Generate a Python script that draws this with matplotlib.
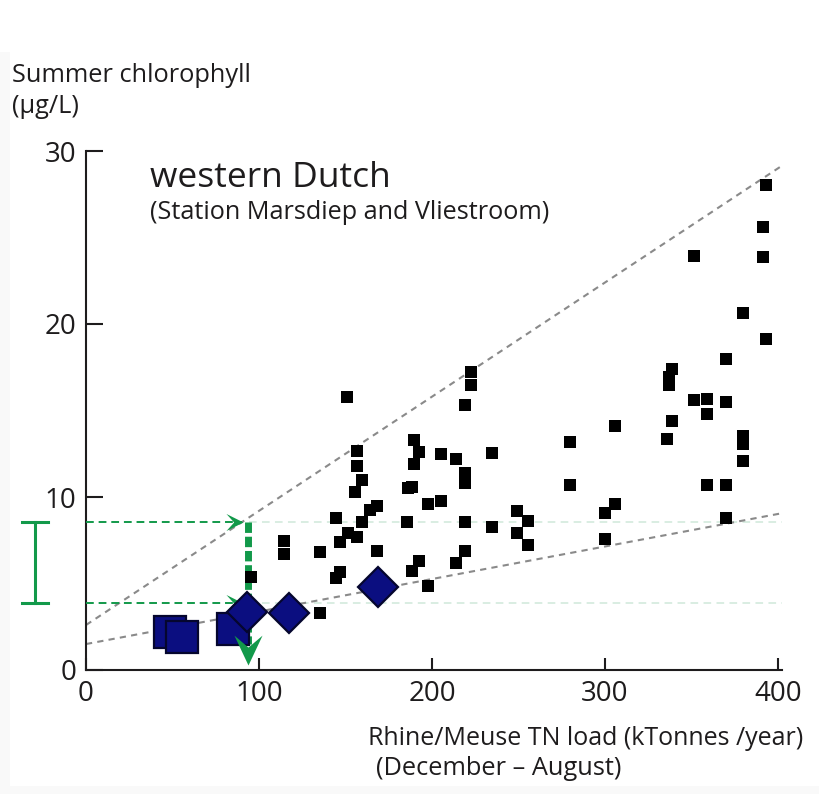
import numpy as np
import matplotlib
matplotlib.use('Agg')
from matplotlib import pyplot as plt
from matplotlib.path import Path
from matplotlib.patches import Rectangle

plt.rcParams['font.family'] = ['Open Sans', 'DejaVu Sans']

#---DATA---#
# Rhine/Meuse TN load (kTonnes/year) vs summer chlorophyll (ug/L), yearly points
tn_load = [95.6, 114.5, 114.5, 135.3, 135.3, 144.7, 146.8, 151.6, 156.5, 159.4,
           164.0, 168.3, 155.5, 159.4, 156.5, 156.5, 150.7, 168.4, 146.8, 144.5,
           185.4, 186.3, 188.2, 189.4, 192.5, 189.4, 205.4, 213.9, 219.0, 219.0,
           222.4, 222.4, 219.0, 234.9, 197.4, 205.4, 219.0, 234.9, 219.0, 213.9,
           192.7, 188.2, 197.4, 248.9, 248.9, 255.7, 255.7, 279.8, 279.8, 300.0,
           300.0, 306.0, 306.0, 335.6, 338.5, 337.2, 337.2, 338.5, 351.5, 359.2,
           359.2, 369.8, 351.4, 369.7, 379.7, 392.8, 391.5, 391.5, 392.8, 379.8,
           379.8, 379.8, 359.2, 369.7, 369.7]
chl = [5.40, 7.46, 6.72, 6.80, 3.30, 8.80, 7.40, 7.90, 7.70, 8.58,
       9.27, 9.48, 10.30, 10.98, 11.78, 12.68, 15.78, 6.89, 5.68, 5.32,
       8.57, 10.50, 10.60, 13.28, 12.60, 11.90, 12.50, 12.20, 11.40, 10.80,
       17.24, 16.47, 15.30, 12.57, 9.59, 9.77, 8.57, 8.29, 6.90, 6.20,
       6.30, 5.70, 4.84, 9.19, 7.90, 8.60, 7.20, 13.16, 10.69, 9.10,
       7.60, 9.58, 14.08, 13.33, 14.37, 16.47, 16.92, 17.40, 15.58, 15.68,
       14.79, 15.47, 23.95, 17.95, 20.65, 19.15, 23.85, 25.60, 28.05, 13.50,
       13.06, 12.08, 10.68, 10.68, 8.81]

# recent years
recent_sq_x = [48.6, 55.3, 85.2]
recent_sq_y = [2.20, 1.93, 2.35]
recent_dm_x = [92.9, 117.5, 168.6]
recent_dm_y = [3.37, 3.27, 4.82]

# envelope lines (intercept, slope)
upper_line = (2.6, 0.066)
lower_line = (1.5, 0.0188)

# target load and chlorophyll range
target_load = 93.4
chl_high = 8.55
chl_low = 3.85
arrow_end = 0.3

x_ticks = [0, 100, 200, 300, 400]
y_ticks = [0, 10, 20, 30]

green = '#12994a'
navy = '#0b0e80'
ink = '#1e1c1d'

# barbed arrowheads, tip at the origin
arrow_right = Path([(0, 0), (-1, 0.5), (-0.55, 0), (-1, -0.5), (0, 0)],
                   [Path.MOVETO, Path.LINETO, Path.LINETO, Path.LINETO, Path.CLOSEPOLY])
arrow_down = Path([(0, 0), (-0.47, 1), (0, 0.6), (0.47, 1), (0, 0)],
                  [Path.MOVETO, Path.LINETO, Path.LINETO, Path.LINETO, Path.CLOSEPOLY])

#---PLOT---#
fig = plt.figure(figsize=(8.19, 7.94), dpi=100)
fig.patch.set_facecolor('white')
# faint page margin
fig.add_artist(Rectangle((0, 0), 10 / 819, 1 - 52 / 794, transform=fig.transFigure,
                         facecolor='#f9f9f9', edgecolor='none', zorder=-5))
fig.add_artist(Rectangle((0, 0), 1, 8 / 794, transform=fig.transFigure,
                         facecolor='#f9f9f9', edgecolor='none', zorder=-5))

ax = fig.add_axes([86 / 819, 1 - 670 / 794, 695.5 / 819, 519 / 794])
ax.set_xlim(0, 402)
ax.set_ylim(0, 30)
ax.patch.set_alpha(0)

for s in ['top', 'right']:
    ax.spines[s].set_visible(False)
for s in ['left', 'bottom']:
    ax.spines[s].set_linewidth(1.5)
    ax.spines[s].set_color(ink)

ax.set_xticks(x_ticks)
ax.set_yticks(y_ticks)
ax.tick_params(axis='x', direction='in', length=9, width=1.5, color=ink,
               labelsize=20, labelcolor=ink, pad=7)
ax.tick_params(axis='y', direction='in', length=12.5, width=1.5, color=ink,
               labelsize=20, labelcolor=ink, pad=7)

# envelope lines
xl = np.array([0, 402])
for b, m in [upper_line, lower_line]:
    ax.plot(xl, b + m * xl, color='#8a8a8a', lw=1.5, dashes=(3, 2.5), zorder=2)

# pale continuation of the chlorophyll range
for lev in [chl_high, chl_low]:
    ax.plot([target_load + 1, 402], [lev, lev], color='#cfe8da', lw=1.1,
            dashes=(5, 3.5), zorder=1)
    ax.plot([0, target_load - 3], [lev, lev], color=green, lw=1.4,
            dashes=(4, 2.5), zorder=3)
    ax.plot([target_load - 2.5], [lev], marker=arrow_right, ms=24.5,
            color=green, mew=0, zorder=3)

# target load drop line
ax.plot([target_load, target_load], [chl_high, 1.5], color=green, lw=5,
        dashes=(1.5, 0.55), solid_capstyle='butt', dash_capstyle='butt', zorder=2)

ax.plot(tn_load, chl, 's', ms=8.6, color='black', mew=0, zorder=4)

ax.plot(recent_sq_x, recent_sq_y, 's', ms=23, mfc=navy, mec='#05062e', mew=1.6, zorder=5)
ax.plot(recent_dm_x, recent_dm_y, 'D', ms=20, mfc=navy, mec='#05062e', mew=1.6, zorder=5)

ax.plot([target_load], [arrow_end], marker=arrow_down, ms=43, color=green, mew=0,
        zorder=6, clip_on=False)

# chlorophyll range bar left of the axis
ax.plot([-29.5, -29.5], [chl_low, chl_high], color=green, lw=2.2, clip_on=False)
for lev in [chl_low, chl_high]:
    ax.plot([-36.8, -22.2], [lev, lev], color=green, lw=2.2, clip_on=False)

#---TEXT---#
def ftext(x, y, s, **kw):
    fig.text(x / 819, 1 - y / 794, s, color=ink, va='baseline', **kw)

ftext(12, 82, 'Summer chlorophyll', fontsize=18.3)
ftext(12, 113, '(\u00b5g/L)', fontsize=18.3)
ftext(150, 187, 'western Dutch', fontsize=25.5)
ftext(150, 219, '(Station Marsdiep and Vliestroom)', fontsize=18.2)
ftext(803, 745, 'Rhine/Meuse TN load (kTonnes /year)', fontsize=18, ha='right')
ftext(376, 775, '(December \u2013 August)', fontsize=18.3)

fig.savefig('out.png', dpi=100)
